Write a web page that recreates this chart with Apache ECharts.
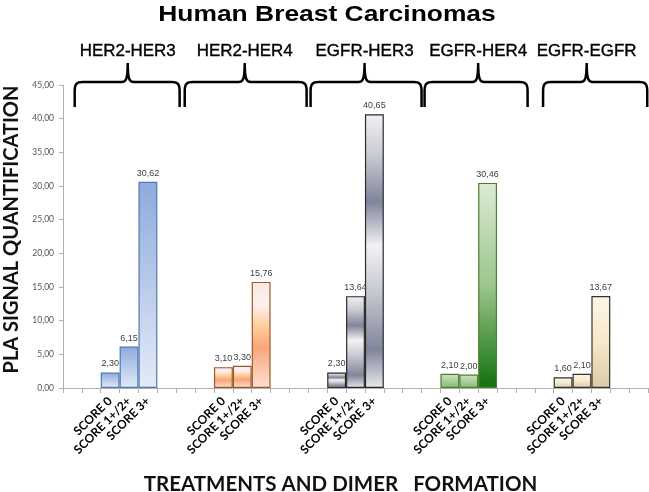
<!DOCTYPE html>
<html>
<head>
<meta charset="utf-8">
<script src="https://cdn.jsdelivr.net/npm/echarts@6/dist/echarts.min.js"></script>
<style>
html,body{margin:0;padding:0;background:#fff;}
#chart{width:649px;height:492px;}
</style>
</head>
<body>
<div id="chart"></div>
<script>
// ---- data ----
const groups = ['HER2-HER3', 'HER2-HER4', 'EGFR-HER3', 'EGFR-HER4', 'EGFR-EGFR'];
const scores = ['SCORE 0', 'SCORE 1+/2+', 'SCORE 3+'];
const her2her3 = [2.30, 6.15, 30.62];
const her2her4 = [3.10, 3.30, 15.76];
const egfrHer3 = [2.30, 13.64, 40.65];
const egfrHer4 = [2.10, 2.00, 30.46];
const egfrEgfr = [1.60, 2.10, 13.67];
const groupValues = [her2her3, her2her4, egfrHer3, egfrHer4, egfrEgfr];
const yTicks = [0, 5, 10, 15, 20, 25, 30, 35, 40, 45];
// bracket spans in category-axis units: [start, centre, end]
const bracketSpans = [
  [0.12, 2.93, 5.68],
  [5.95, 9.13, 12.41],
  [12.62, 15.48, 18.5],
  [18.66, 21.5, 24.12],
  [24.94, 27.25, 30.46]
];

// ---- styles ----
function lg(stops) {
  return {type: 'linear', x: 0, y: 0, x2: 0, y2: 1,
    colorStops: stops.map(s => ({offset: s[0], color: s[1]}))};
}
const groupStyles = [
  {color: lg([[0, '#8eaadc'], [1, '#e4ebf7']]), borderColor: '#4f78b5'},
  {color: lg([[0, '#fde8e6'], [0.22, '#fdf0ee'], [0.45, '#fcc88f'], [0.62, '#f9a57c'], [1, '#fde2d3']]), borderColor: '#9a5a2c'},
  {color: lg([[0, '#f0f0f3'], [0.15, '#c9cbd3'], [0.32, '#80859a'], [0.48, '#f2f2f4'], [0.66, '#c3c6cf'], [0.86, '#80859a'], [1, '#e8e9ec']]), borderColor: '#2b2b2b'},
  {color: lg([[0, '#dcebd4'], [0.5, '#9cc68a'], [1, '#10700f']]), borderColor: '#4d7d2e'},
  {color: lg([[0, '#fdf7e8'], [0.5, '#f6e8c8'], [1, '#d9caa8']]), borderColor: '#333333'}
];
const smallGreen = lg([[0, '#cfe4c3'], [1, '#86bb70']]);

// ---- build categories / data ----
const categories = [];
const barData = [];
const groupCenters = [];
function pushBlank(n) { for (let i = 0; i < n; i++) { categories.push(''); barData.push('-'); } }
pushBlank(2);
groups.forEach((g, gi) => {
  if (gi > 0) pushBlank(3);
  groupValues[gi].forEach((v, si) => {
    if (si === 1) groupCenters.push(categories.length);
    categories.push(scores[si]);
    const st = groupStyles[gi];
    const color = (gi === 3 && si < 2) ? smallGreen : st.color;
    barData.push({value: v, itemStyle: {color: color, borderColor: st.borderColor, borderWidth: 1.2}});
  });
});
pushBlank(2);

function fmt(v) { return Number(v).toFixed(2).replace('.', ','); }

const yEnd = 107, yBar = 82, yTop = 63, yText = 52;

function renderBracket(params, api) {
  const s = bracketSpans[params.dataIndex];
  const x0 = api.coord([0, 0])[0];
  const step = api.size([1, 0])[0];
  const a = x0 + s[0] * step, c = x0 + s[1] * step, b = x0 + s[2] * step;
  const path = 'M' + a + ',' + yEnd +
    ' L' + a + ',' + (yBar + 9) +
    ' C' + a + ',' + (yBar + 2) + ' ' + (a + 2) + ',' + yBar + ' ' + (a + 8) + ',' + yBar +
    ' L' + (c - 6) + ',' + yBar +
    ' C' + (c - 2) + ',' + yBar + ' ' + c + ',' + (yBar - 2) + ' ' + c + ',' + yTop +
    ' C' + c + ',' + (yBar - 2) + ' ' + (c + 2) + ',' + yBar + ' ' + (c + 6) + ',' + yBar +
    ' L' + (b - 8) + ',' + yBar +
    ' C' + (b - 2) + ',' + yBar + ' ' + b + ',' + (yBar + 2) + ' ' + b + ',' + (yBar + 9) +
    ' L' + b + ',' + yEnd;
  return {
    type: 'group',
    children: [
      {type: 'path', shape: {pathData: path},
        style: {fill: 'none', stroke: '#000', lineWidth: 2.5}},
      {type: 'text', x: c, y: yText, scaleX: 1.06,
        style: {text: groups[params.dataIndex], font: '16px "Liberation Sans"', fill: '#000',
          stroke: '#000', lineWidth: 0.35,
          align: 'center', verticalAlign: 'middle'}}
    ]
  };
}

const chart = echarts.init(document.getElementById('chart'));
chart.setOption({
  animation: false,
  backgroundColor: '#ffffff',
  graphic: {elements: [
    {type: 'text', x: 327, y: 15, scaleX: 1.2,
      style: {text: 'Human Breast Carcinomas', font: 'bold 22px "Liberation Sans"', fill: '#000',
        align: 'center', verticalAlign: 'middle'}}
  ]},
  grid: {left: 63, right: 1, top: 85, bottom: 104, containLabel: false, outerBoundsMode: 'none'},
  xAxis: {
    type: 'category',
    data: categories,
    boundaryGap: true,
    name: 'TREATMENTS AND DIMER   FORMATION',
    nameLocation: 'middle',
    nameGap: 86,
    nameTextStyle: {fontFamily: 'Lato', fontWeight: 'bold', fontSize: 20.5, color: '#111', padding: [0, 30, 0, 0]},
    axisLine: {show: true, lineStyle: {color: '#b0b0b0', width: 1}},
    axisTick: {show: true, interval: 0, length: 5, lineStyle: {color: '#b0b0b0'}},
    axisLabel: {interval: 0, rotate: 45, margin: 11, fontFamily: 'Lato', fontWeight: 'bold', fontSize: 12, color: '#000'},
    splitLine: {show: false}
  },
  yAxis: {
    type: 'value',
    min: yTicks[0], max: yTicks[yTicks.length - 1], interval: yTicks[1] - yTicks[0],
    name: 'PLA SIGNAL QUANTIFICATION',
    nameLocation: 'middle',
    nameGap: 35,
    nameTextStyle: {fontFamily: 'Lato', fontWeight: 'bold', fontSize: 20, color: '#111', padding: [0, 0, 0, 14]},
    axisLine: {show: true, lineStyle: {color: '#b0b0b0', width: 1}},
    axisTick: {show: true, length: 4, lineStyle: {color: '#b0b0b0'}},
    axisLabel: {formatter: fmt, fontFamily: 'Lato', fontSize: 8.5, color: '#555', margin: 9},
    splitLine: {show: false}
  },
  series: [{
    type: 'bar',
    data: barData,
    barCategoryGap: '0%',
    label: {show: true, position: 'top', distance: 4, formatter: p => fmt(p.value),
      fontFamily: 'Liberation Sans', fontSize: 9, color: '#404040'}
  }, {
    type: 'custom',
    clip: false,
    silent: true,
    data: groupCenters.map(c => [c, 0]),
    renderItem: renderBracket
  }]
});
</script>
</body>
</html>
